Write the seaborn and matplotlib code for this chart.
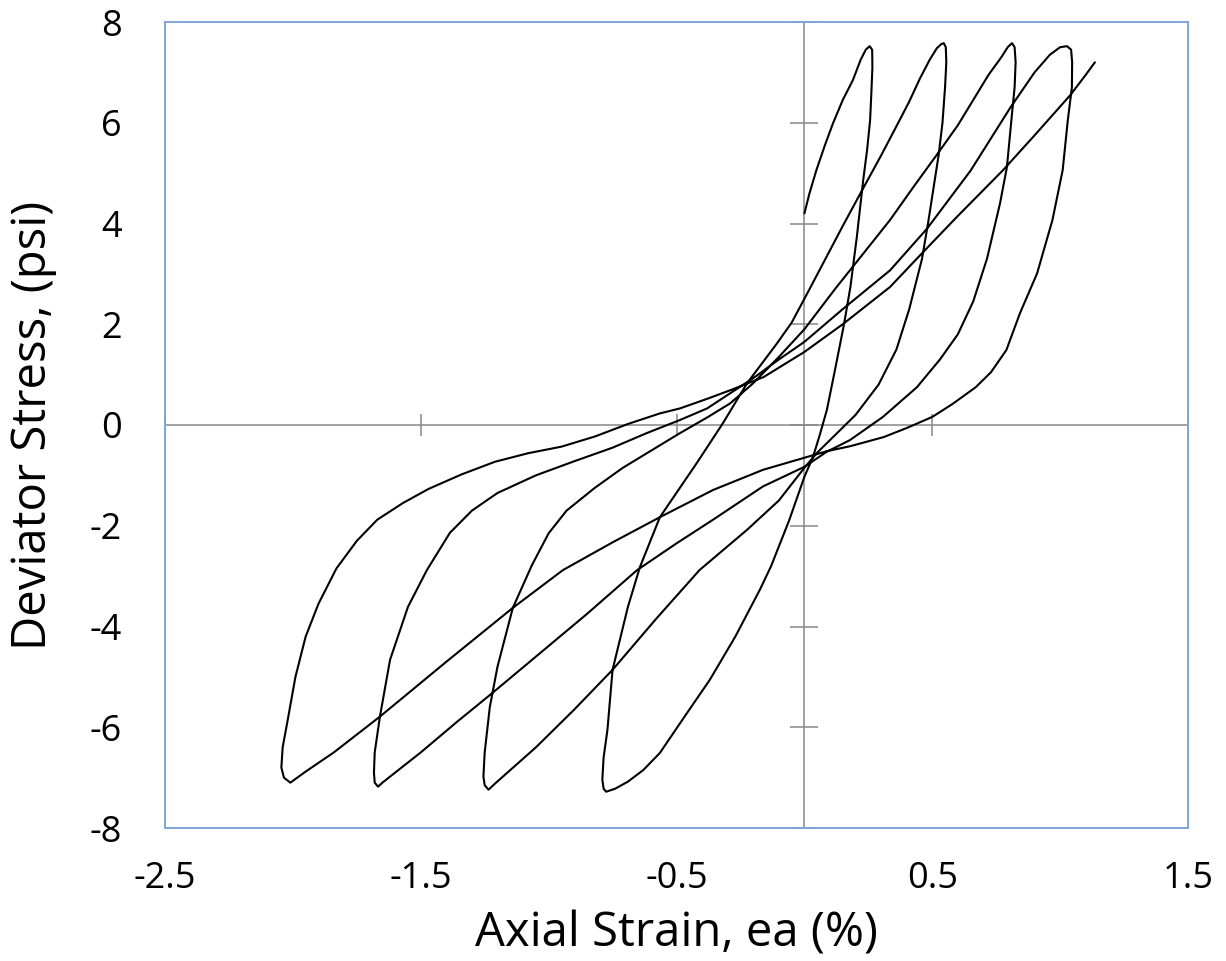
import numpy as np
import pandas as pd
import matplotlib
matplotlib.use("Agg")
import matplotlib.pyplot as plt
import seaborn as sns

# =====================================================
# Data: stress-strain path, in test order
# =====================================================

# first loading, from the start point up to peak 1
load0_strain = [0.0, 0.02, 0.047, 0.08, 0.112, 0.15, 0.19, 0.22, 0.24, 0.255]
load0_stress = [4.2, 4.6, 5.06, 5.55, 5.99, 6.45, 6.85, 7.25, 7.45, 7.52]

# unloading 1: peak 1 -> trough 1
unload1_strain = [0.255, 0.265, 0.266, 0.262, 0.257, 0.245, 0.23, 0.205, 0.18, 0.155,
                  0.12, 0.088, 0.06, 0.034, 0.0, -0.06, -0.13, -0.174, -0.27, -0.37,
                  -0.47, -0.565, -0.63, -0.69, -0.74, -0.775]
unload1_stress = [7.52, 7.45, 7.1, 6.6, 6.05, 5.45, 4.86, 3.73, 2.74, 2.0,
                  1.1, 0.3, -0.2, -0.63, -1.03, -1.9, -2.8, -3.27, -4.2, -5.06,
                  -5.8, -6.51, -6.85, -7.08, -7.22, -7.28]

# reloading 2: trough 1 -> peak 2
load2_strain = [-0.775, -0.785, -0.79, -0.785, -0.77, -0.76, -0.75, -0.69, -0.643, -0.565,
                -0.42, -0.318, -0.224, -0.11, -0.05, 0.01, 0.069, 0.15, 0.23, 0.30,
                0.362, 0.41, 0.452, 0.49, 0.518, 0.535, 0.545]
load2_stress = [-7.28, -7.22, -7.04, -6.6, -6.05, -5.45, -4.86, -3.61, -2.82, -1.83,
                -0.75, 0.04, 0.83, 1.6, 2.03, 2.6, 3.17, 3.95, 4.7, 5.35,
                5.95, 6.42, 6.88, 7.25, 7.48, 7.56, 7.58]

# unloading 2: peak 2 -> trough 2
unload2_strain = [0.545, 0.553, 0.555, 0.55, 0.54, 0.525, 0.505, 0.485, 0.46, 0.435,
                  0.41, 0.36, 0.29, 0.2, 0.12, 0.05, 0.0, -0.1, -0.224, -0.41,
                  -0.58, -0.75, -0.9, -1.05, -1.15, -1.21, -1.235]
unload2_stress = [7.58, 7.5, 7.2, 6.7, 6.0, 5.36, 4.7, 4.05, 3.3, 2.8,
                  2.3, 1.5, 0.8, 0.2, -0.2, -0.55, -0.85, -1.5, -2.08, -2.88,
                  -3.85, -4.86, -5.65, -6.4, -6.85, -7.12, -7.24]

# reloading 3: trough 2 -> peak 3
load3_strain = [-1.235, -1.25, -1.255, -1.25, -1.23, -1.2, -1.14, -1.065, -1.0, -0.93,
                -0.82, -0.71, -0.616, -0.486, -0.38, -0.29, -0.2, -0.1, 0.0, 0.12,
                0.23, 0.335, 0.43, 0.523, 0.6, 0.66, 0.72, 0.77, 0.795, 0.812]
load3_stress = [-7.24, -7.15, -6.98, -6.5, -5.6, -4.8, -3.63, -2.78, -2.15, -1.7,
                -1.25, -0.85, -0.56, -0.16, 0.15, 0.43, 0.83, 1.35, 1.9, 2.7,
                3.4, 4.07, 4.75, 5.4, 5.95, 6.45, 6.95, 7.3, 7.5, 7.58]

# unloading 3: peak 3 -> trough 3
unload3_strain = [0.812, 0.822, 0.826, 0.822, 0.812, 0.792, 0.765, 0.714, 0.66, 0.6,
                  0.53, 0.44, 0.307, 0.178, 0.088, 0.0, -0.162, -0.357, -0.5, -0.654,
                  -0.85, -1.05, -1.22, -1.36, -1.5, -1.6, -1.65, -1.667]
unload3_stress = [7.58, 7.5, 7.2, 6.7, 6.19, 5.12, 4.4, 3.3, 2.45, 1.8,
                  1.3, 0.75, 0.16, -0.3, -0.53, -0.83, -1.22, -1.88, -2.35, -2.88,
                  -3.75, -4.6, -5.32, -5.9, -6.5, -6.9, -7.1, -7.18]

# reloading 4: trough 3 -> peak 4
load4_strain = [-1.667, -1.68, -1.683, -1.68, -1.66, -1.62, -1.55, -1.476, -1.386, -1.3,
                -1.2, -1.05, -0.9, -0.75, -0.616, -0.486, -0.38, -0.29, -0.2, -0.1,
                0.0, 0.15, 0.335, 0.48, 0.65, 0.804, 0.9, 0.96, 1.0, 1.027]
load4_stress = [-7.18, -7.1, -6.9, -6.5, -5.8, -4.66, -3.61, -2.88, -2.14, -1.7,
                -1.35, -1.0, -0.72, -0.45, -0.16, 0.1, 0.33, 0.63, 0.93, 1.3,
                1.65, 2.3, 3.07, 3.9, 5.05, 6.29, 7.0, 7.35, 7.5, 7.52]

# unloading 4: peak 4 -> trough 4
unload4_strain = [1.027, 1.043, 1.047, 1.046, 1.03, 1.01, 0.97, 0.91, 0.843, 0.79,
                  0.73, 0.67, 0.58, 0.5, 0.4, 0.31, 0.18, 0.088, 0.0, -0.162,
                  -0.357, -0.565, -0.75, -0.944, -1.14, -1.4, -1.66, -1.84, -1.95, -2.01]
unload4_stress = [7.52, 7.45, 7.2, 6.7, 6.05, 5.06, 4.07, 3.01, 2.22, 1.49,
                  1.05, 0.75, 0.42, 0.16, -0.06, -0.24, -0.42, -0.52, -0.65, -0.89,
                  -1.29, -1.83, -2.33, -2.88, -3.63, -4.7, -5.79, -6.5, -6.88, -7.1]

# final reloading: trough 4 -> last point
load5_strain = [-2.01, -2.035, -2.045, -2.04, -2.02, -1.99, -1.95, -1.9, -1.83, -1.75,
                -1.67, -1.57, -1.47, -1.34, -1.21, -1.08, -0.95, -0.82, -0.69, -0.565,
                -0.486, -0.38, -0.29, -0.16, 0.0, 0.15, 0.335, 0.46, 0.6, 0.777,
                0.9, 1.04, 1.1, 1.136]
load5_stress = [-7.1, -7.0, -6.8, -6.4, -5.85, -5.0, -4.2, -3.55, -2.85, -2.3,
                -1.88, -1.55, -1.27, -0.98, -0.73, -0.56, -0.43, -0.23, 0.02, 0.23,
                0.33, 0.52, 0.69, 0.95, 1.45, 2.0, 2.74, 3.41, 4.15, 5.06,
                5.75, 6.55, 6.95, 7.2]

x_ticks = [-2.5, -1.5, -0.5, 0.5, 1.5]
x_tick_labels = ["-2.5", "-1.5", "-0.5", "0.5", "1.5"]
y_ticks = [-8, -6, -4, -2, 0, 2, 4, 6, 8]
y_tick_labels = ["-8", "-6", "-4", "-2", "0", "2", "4", "6", "8"]

# =====================================================
# Build one ordered path
# =====================================================

branches = [
    (load0_strain, load0_stress),
    (unload1_strain, unload1_stress),
    (load2_strain, load2_stress),
    (unload2_strain, unload2_stress),
    (load3_strain, load3_stress),
    (unload3_strain, unload3_stress),
    (load4_strain, load4_stress),
    (unload4_strain, unload4_stress),
    (load5_strain, load5_stress),
]

frames = []
for i, (ea, q) in enumerate(branches):
    frames.append(pd.DataFrame({"strain": ea, "stress": q, "branch": i}))
df = pd.concat(frames, ignore_index=True)

# =====================================================
# Plot
# =====================================================

sns.set_theme(style="white")
plt.rcParams["font.family"] = ["Open Sans", "DejaVu Sans"]

GRAY = "#878787"
BLUE = "#7FA5DA"

fig = plt.figure(figsize=(12.26, 9.61), dpi=100)
rect = [165 / 1226, 133 / 961, 1023 / 1226, 806 / 961]

# axes crossing at zero (drawn underneath)
ax0 = fig.add_axes(rect)
ax0.set_xlim(-2.5, 1.5)
ax0.set_ylim(-8, 8)
for side in ["top", "right"]:
    ax0.spines[side].set_visible(False)
for side in ["left", "bottom"]:
    ax0.spines[side].set_position(("data", 0))
    ax0.spines[side].set_color(GRAY)
    ax0.spines[side].set_linewidth(1.1)
ax0.set_xticks(x_ticks)
ax0.set_yticks(y_ticks)
ax0.tick_params(axis="x", direction="inout", length=16, width=1.1, color=GRAY,
                bottom=True, labelbottom=False)
ax0.tick_params(axis="y", direction="inout", length=20, width=1.1, color=GRAY,
                left=True, labelleft=False)

# frame, labels and the curve
ax = fig.add_axes(rect)
ax.patch.set_visible(False)
sns.lineplot(data=df, x="strain", y="stress", sort=False, estimator=None,
             color="black", linewidth=1.5, ax=ax)

ax.set_xlim(-2.5, 1.5)
ax.set_ylim(-8, 8)
ax.set_xticks(x_ticks)
ax.set_xticklabels(x_tick_labels)
ax.set_yticks(y_ticks)
ax.set_yticklabels(y_tick_labels)
ax.tick_params(axis="x", length=0, pad=24, labelsize=26, labelcolor="black")
ax.tick_params(axis="y", length=0, pad=31, labelsize=26, labelcolor="black")

for side in ["top", "right", "bottom", "left"]:
    ax.spines[side].set_visible(True)
    ax.spines[side].set_color(BLUE)
    ax.spines[side].set_linewidth(1.4)

ax.set_xlabel("Axial Strain, ea (%)", fontsize=34, color="black")
ax.set_ylabel("Deviator Stress, (psi)", fontsize=34, color="black")
ax.xaxis.set_label_coords(0.5, -0.102)
ax.yaxis.set_label_coords(-0.106, 0.5)

fig.savefig("out.png", dpi=100)
plt.close(fig)
